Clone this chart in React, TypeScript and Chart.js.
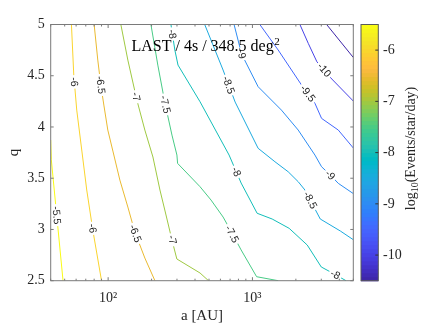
import React, { useEffect, useRef } from "react";
import { Chart, registerables } from "chart.js";
Chart.register(...registerables);

// ---------------- data ----------------
const LEVELS = [-5.5, -6, -6.5, -7, -7.5, -8, -8.5, -9, -9.5, -10, -10.5];

const A_55 = [40, 40.4, 44.0, 48.7];
const Q_55 = [3.873, 3.68, 3.141, 2.5];
const A_60 = [55.7, 57.8, 60.6, 65.9, 71.1, 78.3, 90.0];
const Q_60 = [5, 4.507, 4.165, 3.756, 3.385, 2.995, 2.5];
const A_65 = [80, 84.8, 89.0, 93.4, 99.5, 108.3, 120.6, 137, 153.2, 179.7, 211];
const Q_65 = [5, 4.653, 4.409, 4.214, 3.97, 3.756, 3.482, 3.219, 2.975, 2.721, 2.5];
const A_70 = [122.5, 137, 158.2, 179.7, 204.4, 228.6, 251.8, 276.9, 299.3, 433.5, 496];
const Q_70 = [5, 4.653, 4.263, 3.97, 3.707, 3.385, 3.141, 2.897, 2.712, 2.575, 2.5];
const A_75 = [198, 221, 247.6, 276.9, 299.7, 303, 433.5, 516.6, 626.4, 722, 835, 1069, 1508];
const Q_75 = [5, 4.604, 4.234, 3.921, 3.726, 3.645, 3.417, 3.287, 3.121, 2.965, 2.8, 2.539, 2.5];
const A_80 = [272.5, 290, 305, 433.5, 689, 835, 1078, 1370, 1797, 2398, 2999, 3750, 4450];
const Q_80 = [5, 4.751, 4.604, 4.246, 3.726, 3.453, 3.158, 3.102, 3.011, 2.848, 2.634, 2.56, 2.5];
const A_85 = [467, 626, 759, 1095, 1432, 1769, 2076, 2311, 2516, 2951, 4065, 5000];
const Q_85 = [5, 4.556, 4.243, 3.792, 3.661, 3.563, 3.466, 3.385, 3.287, 3.102, 2.985, 2.9];
const A_90 = [746, 841, 1095, 1588, 2076, 2711, 3013, 3467, 3935, 5000];
const Q_90 = [5, 4.712, 4.393, 4.165, 3.97, 3.726, 3.612, 3.531, 3.45, 3.35];
const A_95 = [1125, 1508, 2076, 2311, 2711, 3013, 3935, 5000];
const Q_95 = [5, 4.751, 4.458, 4.36, 4.231, 4.084, 3.97, 3.795];
const A_100 = [2133, 2437, 2798, 3548, 5000];
const Q_100 = [5, 4.816, 4.636, 4.468, 4.253];
const A_105 = [3266, 5000];
const Q_105 = [5, 4.678];

const CONTOUR_A = [A_55, A_60, A_65, A_70, A_75, A_80, A_85, A_90, A_95, A_100, A_105];
const CONTOUR_Q = [Q_55, Q_60, Q_65, Q_70, Q_75, Q_80, Q_85, Q_90, Q_95, Q_100, Q_105];

const LABEL_LEVEL = [-5.5, -6, -6, -6.5, -6.5, -7, -7, -7.5, -7.5, -8, -8, -8, -8.5, -8.5, -9, -9, -9.5, -10];
const LABEL_A = [44.0, 58.3, 77.9, 89.0, 154.3, 156.4, 279, 249, 722, 278.6, 773, 3750, 684, 2516, 841, 3459, 2420, 3147];
const LABEL_Q = [3.14, 4.44, 3.011, 4.41, 2.96, 4.295, 2.9, 4.22, 2.955, 4.907, 3.563, 2.56, 4.409, 3.287, 4.712, 3.531, 4.328, 4.556];

const X_MIN = 40;
const X_MAX = 5000;
const X_TICKS = [40, 50, 60, 70, 80, 90, 100, 200, 300, 400, 500, 600, 700, 800, 900, 1000, 2000, 3000, 4000, 5000];
const X_MAJOR = [100, 1000];
const X_MAJOR_LABELS = ["10\u00B2", "10\u00B3"];
const Y_MIN = 2.5;
const Y_MAX = 5;
const Y_TICKS = [2.5, 3, 3.5, 4, 4.5, 5];
const CB_MIN = -10.5;
const CB_MAX = -5.5;
const CB_TICKS = [-10, -9, -8, -7, -6];

const TITLE_MAIN = "LAST / 4s / 348.5 deg";
const TITLE_SUP = "2";
const X_LABEL = "a [AU]";
const Y_LABEL = "q";
const CB_LABEL_A = "log";
const CB_LABEL_SUB = "10";
const CB_LABEL_B = "(Events/star/day)";

// ---------------- style ----------------
const PARULA: number[][] = [
  [0.2422, 0.1504, 0.6603], [0.2504, 0.165, 0.7076], [0.2578, 0.1818, 0.7511], [0.2647, 0.1978, 0.7952],
  [0.2706, 0.2147, 0.8364], [0.2751, 0.2342, 0.871], [0.2783, 0.2559, 0.8991], [0.2803, 0.2782, 0.9221],
  [0.2813, 0.3006, 0.9414], [0.281, 0.3228, 0.9579], [0.2795, 0.3447, 0.9717], [0.276, 0.3667, 0.9829],
  [0.2699, 0.3892, 0.9906], [0.2602, 0.4123, 0.9952], [0.244, 0.4358, 0.9988], [0.2206, 0.4603, 0.9973],
  [0.1963, 0.4847, 0.9892], [0.1834, 0.5074, 0.9798], [0.1786, 0.5289, 0.9682], [0.1764, 0.5499, 0.952],
  [0.1687, 0.5703, 0.9359], [0.154, 0.5902, 0.9218], [0.146, 0.6091, 0.9079], [0.138, 0.6276, 0.8973],
  [0.1248, 0.6459, 0.8883], [0.1113, 0.6635, 0.8763], [0.0952, 0.6798, 0.8598], [0.0689, 0.6948, 0.8394],
  [0.0297, 0.7082, 0.8163], [0.0036, 0.7203, 0.7917], [0.0067, 0.7312, 0.766], [0.0433, 0.7411, 0.7394],
  [0.0964, 0.75, 0.712], [0.1408, 0.7584, 0.6842], [0.1717, 0.767, 0.6554], [0.1938, 0.7758, 0.6251],
  [0.2161, 0.7843, 0.5923], [0.247, 0.7918, 0.5567], [0.2906, 0.7973, 0.5188], [0.3406, 0.8008, 0.4789],
  [0.3909, 0.8029, 0.4354], [0.4456, 0.8024, 0.3909], [0.5044, 0.7993, 0.348], [0.5616, 0.7942, 0.3045],
  [0.6174, 0.7876, 0.2612], [0.672, 0.7793, 0.2227], [0.7242, 0.7698, 0.191], [0.7738, 0.7598, 0.1646],
  [0.8203, 0.7498, 0.1535], [0.8634, 0.7406, 0.1596], [0.9035, 0.733, 0.1774], [0.9393, 0.7288, 0.21],
  [0.9728, 0.7298, 0.2394], [0.9956, 0.7434, 0.2371], [0.997, 0.7659, 0.2199], [0.9952, 0.7893, 0.2028],
  [0.9892, 0.8136, 0.1885], [0.9786, 0.8386, 0.1766], [0.9676, 0.8639, 0.1643], [0.961, 0.889, 0.1537],
  [0.9597, 0.9135, 0.1423], [0.9628, 0.9373, 0.1265], [0.9691, 0.9606, 0.1064], [0.9769, 0.9839, 0.0805],
];

function parula(t: number): string {
  const tt = Math.max(0, Math.min(1, t)) * (PARULA.length - 1);
  const i = Math.min(PARULA.length - 2, Math.floor(tt));
  const f = tt - i;
  const c = PARULA[i].map((v, k) => Math.round(255 * (v + (PARULA[i + 1][k] - v) * f)));
  return `rgb(${c[0]},${c[1]},${c[2]})`;
}
const levelColor = (L: number) => parula((L - CB_MIN) / (CB_MAX - CB_MIN));

const SERIF = '"Liberation Serif", "Times New Roman", serif';
const SANS = '"Liberation Sans", Arial, sans-serif';
const TEXT_COLOR = "#262626";
const FRAME_COLOR = "#7a7a7a";

const decorPlugin = {
  id: "contourDecor",
  afterDatasetsDraw(chart: any) {
    const { ctx } = chart;
    const xs = chart.scales.x;
    const ys = chart.scales.y;
    ctx.save();
    ctx.font = `10.5px ${SANS}`;
    ctx.textAlign = "center";
    ctx.textBaseline = "middle";
    for (let i = 0; i < LABEL_LEVEL.length; i++) {
      const L = LABEL_LEVEL[i];
      const li = LEVELS.indexOf(L);
      const px = xs.getPixelForValue(LABEL_A[i]);
      const py = ys.getPixelForValue(LABEL_Q[i]);
      const A = CONTOUR_A[li];
      const Q = CONTOUR_Q[li];
      let best = Infinity;
      let ang = 0;
      for (let j = 0; j < A.length - 1; j++) {
        const x1 = xs.getPixelForValue(A[j]);
        const y1 = ys.getPixelForValue(Q[j]);
        const x2 = xs.getPixelForValue(A[j + 1]);
        const y2 = ys.getPixelForValue(Q[j + 1]);
        const dx = x2 - x1;
        const dy = y2 - y1;
        const len2 = dx * dx + dy * dy || 1;
        let u = ((px - x1) * dx + (py - y1) * dy) / len2;
        u = Math.max(0, Math.min(1, u));
        const cx = x1 + u * dx;
        const cy = y1 + u * dy;
        const d = (cx - px) ** 2 + (cy - py) ** 2;
        if (d < best) {
          best = d;
          ang = Math.atan2(dy, dx);
        }
      }
      if (ang > Math.PI / 2) ang -= Math.PI;
      if (ang <= -Math.PI / 2) ang += Math.PI;
      const txt = String(L);
      const w = ctx.measureText(txt).width;
      ctx.save();
      ctx.translate(px, py);
      ctx.rotate(ang);
      ctx.fillStyle = "#ffffff";
      ctx.fillRect(-w / 2 - 2, -4.5, w + 4, 9);
      ctx.fillStyle = TEXT_COLOR;
      ctx.fillText(txt, 0, 0.5);
      ctx.restore();
    }
    ctx.restore();
  },
  afterDraw(chart: any) {
    const { ctx, chartArea } = chart;
    const xs = chart.scales.x;
    const ys = chart.scales.y;
    const cb = chart.scales.cb;
    const { left, right, top, bottom } = chartArea;
    ctx.save();
    ctx.strokeStyle = FRAME_COLOR;
    ctx.lineWidth = 1;
    ctx.strokeRect(left, top, right - left, bottom - top);
    ctx.beginPath();
    for (const v of Y_TICKS) {
      const p = ys.getPixelForValue(v);
      ctx.moveTo(left, p);
      ctx.lineTo(left + 3, p);
      ctx.moveTo(right, p);
      ctx.lineTo(right - 3, p);
    }
    for (const v of X_TICKS) {
      const p = xs.getPixelForValue(v);
      const len = X_MAJOR.includes(v) ? 3.5 : 2;
      ctx.moveTo(p, bottom);
      ctx.lineTo(p, bottom - len);
      ctx.moveTo(p, top);
      ctx.lineTo(p, top + len);
    }
    ctx.stroke();

    // title inside plot
    ctx.fillStyle = "#000";
    ctx.font = `16px ${SERIF}`;
    ctx.textAlign = "left";
    ctx.textBaseline = "alphabetic";
    const tx = 131.5;
    const ty = 51;
    ctx.fillText(TITLE_MAIN, tx, ty);
    const tw = ctx.measureText(TITLE_MAIN).width;
    ctx.font = `11px ${SERIF}`;
    ctx.fillText(TITLE_SUP, tx + tw + 0.5, ty - 6.5);

    // colorbar
    const cx0 = right + 7.7;
    const cw = 17.3;
    const cTop = cb.getPixelForValue(CB_MAX);
    const cBot = cb.getPixelForValue(CB_MIN);
    const n = PARULA.length;
    for (let i = 0; i < n; i++) {
      const v0 = CB_MIN + ((CB_MAX - CB_MIN) * i) / n;
      const v1 = CB_MIN + ((CB_MAX - CB_MIN) * (i + 1)) / n;
      const y0 = cb.getPixelForValue(v0);
      const y1 = cb.getPixelForValue(v1);
      const c = PARULA[i].map((x) => Math.round(255 * x));
      ctx.fillStyle = `rgb(${c[0]},${c[1]},${c[2]})`;
      ctx.fillRect(cx0, y1, cw, y0 - y1 + 0.6);
    }
    ctx.strokeStyle = "#5a5a5a";
    ctx.strokeRect(cx0, cTop, cw, cBot - cTop);
    ctx.beginPath();
    for (const v of CB_TICKS) {
      const p = cb.getPixelForValue(v);
      ctx.moveTo(cx0 + cw, p);
      ctx.lineTo(cx0 + cw - 3, p);
    }
    ctx.strokeStyle = "#333";
    ctx.stroke();

    // colorbar label, rotated
    ctx.save();
    ctx.translate(414.5, 148.5);
    ctx.rotate(-Math.PI / 2);
    ctx.fillStyle = TEXT_COLOR;
    ctx.textBaseline = "alphabetic";
    ctx.font = `14px ${SERIF}`;
    const wa = ctx.measureText(CB_LABEL_A).width;
    const wb = ctx.measureText(CB_LABEL_B).width;
    ctx.font = `10px ${SERIF}`;
    const ws = ctx.measureText(CB_LABEL_SUB).width;
    let sx = -(wa + ws + wb) / 2;
    ctx.font = `14px ${SERIF}`;
    ctx.fillText(CB_LABEL_A, sx, 0);
    sx += wa;
    ctx.font = `10px ${SERIF}`;
    ctx.fillText(CB_LABEL_SUB, sx, 3);
    sx += ws;
    ctx.font = `14px ${SERIF}`;
    ctx.fillText(CB_LABEL_B, sx, 0);
    ctx.restore();

    ctx.restore();
  },
};

export default function App() {
  const ref = useRef<HTMLCanvasElement | null>(null);
  useEffect(() => {
    if (!ref.current) return;
    const datasets = LEVELS.map((L, i) => ({
      label: String(L),
      data: CONTOUR_A[i].map((a, j) => ({ x: a, y: CONTOUR_Q[i][j] })),
      showLine: true,
      borderColor: levelColor(L),
      backgroundColor: levelColor(L),
      borderWidth: 1,
      pointRadius: 0,
      pointHoverRadius: 0,
      tension: 0,
      fill: false,
    }));
    const chart = new Chart(ref.current, {
      type: "scatter",
      data: { datasets },
      options: {
        responsive: false,
        animation: false,
        events: [],
        layout: { padding: { left: 0, right: 0, top: 24.5, bottom: 0 } },
        plugins: { legend: { display: false }, tooltip: { enabled: false }, title: { display: false } },
        scales: {
          x: {
            type: "logarithmic",
            position: "bottom",
            min: X_MIN,
            max: X_MAX,
            grid: { display: false, drawTicks: false },
            border: { display: false },
            afterBuildTicks: (s: any) => {
              s.ticks = X_TICKS.map((v) => ({ value: v, major: X_MAJOR.includes(v) }));
            },
            afterFit: (s: any) => {
              s.height = 46.3;
              s.paddingLeft = 0;
              s.paddingRight = 0;
            },
            ticks: {
              autoSkip: false,
              maxRotation: 0,
              minRotation: 0,
              padding: 9,
              color: TEXT_COLOR,
              font: { family: SERIF, size: 14 },
              callback: (v: any) => {
                const k = X_MAJOR.indexOf(Number(v));
                return k >= 0 ? X_MAJOR_LABELS[k] : "";
              },
            },
            title: {
              display: true,
              text: X_LABEL,
              color: TEXT_COLOR,
              font: { family: SERIF, size: 15 },
              padding: { top: 0, bottom: 1.5 },
            },
          },
          y: {
            type: "linear",
            position: "left",
            min: Y_MIN,
            max: Y_MAX,
            grid: { display: false, drawTicks: false },
            border: { display: false },
            afterBuildTicks: (s: any) => {
              s.ticks = Y_TICKS.map((v) => ({ value: v }));
            },
            afterFit: (s: any) => {
              s.width = 50.7;
              s.paddingTop = 0;
              s.paddingBottom = 0;
            },
            ticks: {
              padding: 6,
              color: TEXT_COLOR,
              font: { family: SERIF, size: 14 },
              callback: (v: any) => String(v),
            },
            title: {
              display: true,
              text: Y_LABEL,
              color: TEXT_COLOR,
              font: { family: SERIF, size: 15 },
              padding: { top: 5, bottom: 0 },
            },
          },
          cb: {
            type: "linear",
            axis: "y",
            position: "right",
            min: CB_MIN,
            max: CB_MAX,
            grid: { display: false, drawTicks: false },
            border: { display: false },
            afterBuildTicks: (s: any) => {
              s.ticks = CB_TICKS.map((v) => ({ value: v }));
            },
            afterFit: (s: any) => {
              s.width = 82.7;
              s.paddingTop = 0;
              s.paddingBottom = 0;
            },
            ticks: {
              padding: 29.7,
              color: TEXT_COLOR,
              font: { family: SERIF, size: 14 },
              callback: (v: any) => String(v),
            },
          },
        },
      } as any,
      plugins: [decorPlugin],
    });
    return () => chart.destroy();
  }, []);
  return (
    <div style={{ position: "fixed", left: 0, top: 0, width: 436, height: 327, background: "#fff" }}>
      <canvas ref={ref} width={436} height={327} style={{ display: "block", width: 436, height: 327 }} />
    </div>
  );
}
